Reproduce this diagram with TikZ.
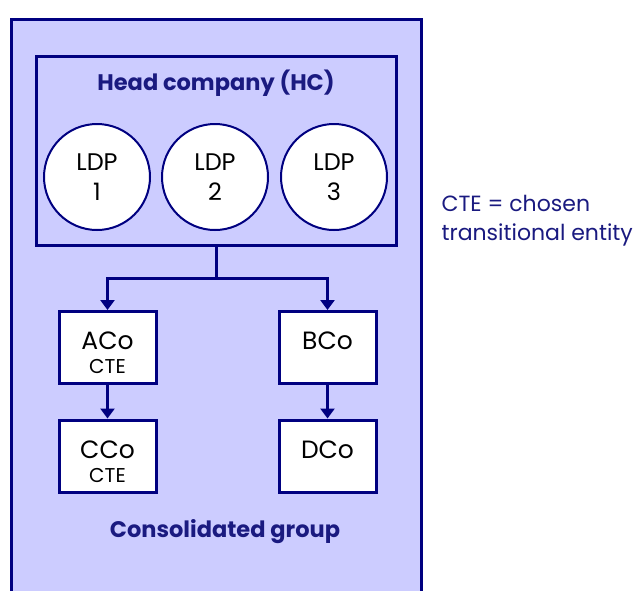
\documentclass[tikz,border=0pt]{standalone}
\usepackage{fontspec}
\setmainfont{Poppins}
\usetikzlibrary{arrows.meta}
\definecolor{navy}{HTML}{000080}
\definecolor{lav}{HTML}{CCCCFF}
\definecolor{ink}{HTML}{1A1A80}
\newcommand{\bigtxt}{\fontsize{25}{27}\selectfont}
\newcommand{\smalltxt}{\fontsize{20}{27}\selectfont}
% pushes a two-line box label down a little
\newcommand{\toppad}{\rule{0pt}{29pt}}
\tikzset{
  frame/.style={draw=navy, line width=3pt},
  ldp/.style={circle, draw=navy, line width=2pt, fill=white, minimum size=106pt,
    inner sep=0pt, align=center, font=\fontsize{24}{30}\selectfont},
  cobox/.style={draw=navy, line width=3pt, fill=white, minimum width=97pt,
    minimum height=72pt, inner sep=0pt, align=center, font=\bigtxt},
  link/.style={draw=navy, line width=3pt},
  arr/.style={link, -{Triangle[width=14pt,length=10pt]}},
  heading/.style={text=ink, font=\bfseries\fontsize{22.5}{26}\selectfont},
}
\begin{document}
\begin{tikzpicture}[x=1pt,y=-1pt]
  \useasboundingbox (0,0) rectangle (639,590);
  \fill[white] (0,0) rectangle (639,590);

  % consolidated group (open at the bottom)
  \fill[lav] (11,19) rectangle (421,600);
  \draw[frame] (11,600) -- (11,19) -- (421,19) -- (421,600);

  % head company
  \node[frame, minimum width=360pt, minimum height=189pt, inner sep=0pt] (hc) at (216,150.5) {};
  \node[heading] (hctitle) at (216,83) {Head company (HC)};
  \node[ldp] (ldp1) at (97,177) {LDP\\1};
  \node[ldp] (ldp2) at (215,177) {LDP\\2};
  \node[ldp] (ldp3) at (334,177) {LDP\\3};

  % subsidiaries
  \node[cobox] (aco) at (107.5,347.5) {\toppad ACo\\[-3pt]{\smalltxt CTE}};
  \node[cobox] (bco) at (327.5,347.5) {\toppad BCo\\[-3pt]{\smalltxt\phantom{CTE}}};
  \node[cobox] (cco) at (107.5,456) {\toppad CCo\\[-3pt]{\smalltxt CTE}};
  \node[cobox] (dco) at (327.5,456) {\toppad DCo\\[-3pt]{\smalltxt\phantom{CTE}}};

  % ownership links
  \coordinate (split) at (216,278);
  \draw[link] (hc.south) -- (split);
  \draw[arr] (split) -| (aco.north);
  \draw[arr] (split) -| (bco.north);
  \draw[arr] (aco.south) -- (cco.north);
  \draw[arr] (bco.south) -- (dco.north);

  \node[heading] (cgtitle) at (225,532) {Consolidated group};

  % legend
  \node[text=ink, anchor=west, align=left, font=\fontsize{22}{29}\selectfont] (legend) at (438,221)
    {CTE = chosen\\transitional entity};
\end{tikzpicture}
\end{document}
